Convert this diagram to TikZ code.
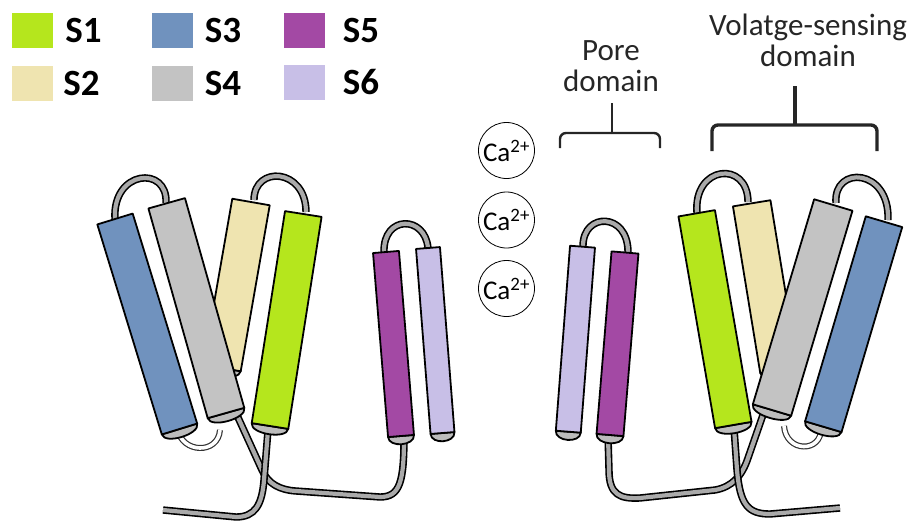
\documentclass[tikz,border=0pt]{standalone}
\usepackage{fontspec}
\setmainfont{Carlito}
\usetikzlibrary{calc, positioning}

\definecolor{sone}{RGB}{181,230,29}
\definecolor{stwo}{RGB}{239,228,176}
\definecolor{sthree}{RGB}{112,146,190}
\definecolor{sfour}{RGB}{195,195,195}
\definecolor{sfive}{RGB}{163,73,164}
\definecolor{ssix}{RGB}{200,191,231}
\definecolor{capgray}{RGB}{188,188,188}
\definecolor{tubegray}{RGB}{170,170,170}

% cylinder: name, top centre, bottom centre, width, colour
\newcommand{\helix}[5]{%
  \coordinate (#1t) at #2;
  \coordinate (#1b) at #3;
  \coordinate (#1p) at ($(#1t)!#4/2!90:(#1b)$);
  \coordinate (#1m) at ($(#1t)!#4/2!-90:(#1b)$);
  \coordinate (#1q) at ($(#1b)!#4/2!-90:(#1t)$);
  \coordinate (#1n) at ($(#1b)!#4/2!90:(#1t)$);
  \filldraw[helixline, fill=capgray] (#1q) .. controls ($(#1q)!-11pt!(#1p)$) and ($(#1n)!-11pt!(#1m)$) .. (#1n) -- cycle;
  \filldraw[helixline, fill=#5] (#1p) -- (#1m) -- (#1n) -- (#1q) -- cycle;
}

\begin{document}
\begin{tikzpicture}[x=1pt, y=-1pt, line join=round,
  helixline/.style={draw=black, line width=1.8pt},
  tube/.style={draw=black, line width=1.6pt, double=tubegray, double distance=4.2pt},
  faint/.style={draw=black!80, line width=1.2pt, double=white, double distance=3.6pt},
  key/.style={minimum width=41pt, minimum height=35pt, inner sep=0pt},
  legend/.style={inner sep=0pt, font=\fontsize{37}{40}\selectfont\bfseries},
  ion/.style={circle, draw, line width=0.8pt, fill=white, minimum size=56pt, inner sep=0pt, font=\fontsize{27}{28}\selectfont},
  domlabel/.style={align=center, inner sep=0pt, text=black!85, font=\fontsize{31}{31}\selectfont},
  brace/.style={draw=black!85, rounded corners=6pt}]
  \useasboundingbox (0,0) rectangle (923,522);

  % colour key
  \node[key, fill=sone] (kone) at (32.5,30.5) {};
  \node[legend, right=12pt of kone] (lone) {S1};
  \node[key, fill=stwo] (ktwo) at (32.5,83.5) {};
  \node[legend, right=10pt of ktwo] (ltwo) {S2};
  \node[key, fill=sthree] (kthree) at (172,30.5) {};
  \node[legend, right=12pt of kthree] (lthree) {S3};
  \node[key, fill=sfour] (kfour) at (172,83.5) {};
  \node[legend, right=12pt of kfour] (lfour) {S4};
  \node[key, fill=sfive] (kfive) at (304,30.5) {};
  \node[legend, right=18pt of kfive] (lfive) {S5};
  \node[key, fill=ssix] (ksix) at (304,82) {};
  \node[legend, right=18pt of ksix] (lsix) {S6};

  % calcium ions
  \node[ion] (caone) at (506.5,150.5) {Ca\textsuperscript{2+}};
  \node[ion] (catwo) at (506.5,220) {Ca\textsuperscript{2+}};
  \node[ion] (cathree) at (506.5,288.5) {Ca\textsuperscript{2+}};

  % domain labels
  \node[domlabel] (pore) at (611,66) {Pore\\domain};
  \draw[brace, line width=2.4pt] (560,148) -- (560,133) -- (660,133) -- (660,148);
  \draw[draw=black!85, line width=2.4pt] (612,134) -- (612,103);
  \node[domlabel] (vsd) at (808,40) {Volatge-sensing\\domain};
  \draw[brace, line width=3.4pt] (712,151) -- (712,125) -- (877,125) -- (877,151);
  \draw[draw=black!85, line width=3.4pt] (795,126) -- (795,86);

  % left subunit: loops
  \draw[tube] (115,219) .. controls (112,170) and (168,165) .. (166,203);
  \draw[tube] (254,200) .. controls (254,165) and (306,168) .. (306,212);
  \draw[tube] (384,252) .. controls (383,215) and (425,215) .. (428,248);
  \draw[faint] (178,430) .. controls (182,453) and (218,455) .. (220,430);
  \draw[tube] (236,413) -- (262,470) .. controls (268,484) and (280,490) .. (296,491)
    -- (380,497) .. controls (400,497) and (404,482) .. (404,436);
  \draw[tube] (268,430) -- (264,480) .. controls (262,505) and (255,517) .. (236,517) -- (163,510);

  \helix{ltwo}{(251,202)}{(222,368)}{38pt}{stwo}
  \helix{lone}{(303.3,214)}{(270,426)}{37pt}{sone}
  \helix{lthree}{(115,219)}{(179.5,429)}{37pt}{sthree}
  \helix{lfour}{(166.7,203.3)}{(226,413)}{38pt}{sfour}
  \helix{lfive}{(386,252)}{(401,436)}{26pt}{sfive}
  \helix{lsix}{(428,248)}{(442.5,433)}{24pt}{ssix}

  % right subunit: loops
  \draw[tube] (583,246) .. controls (583,212) and (628,212) .. (628,252);
  \draw[tube] (697,213) .. controls (693,165) and (748,160) .. (748,202);
  \draw[tube] (836,203) .. controls (833,165) and (890,168) .. (888,220);
  \draw[faint] (784,426) .. controls (786,453) and (822,453) .. (821,428);
  \draw[tube] (608,436) -- (609,470) .. controls (609,495) and (620,499) .. (640,498)
    -- (715,490) .. controls (732,487) and (742,476) .. (748,458) -- (764,412);
  \draw[tube] (734,428) -- (737,470) .. controls (740,505) and (748,514) .. (770,514) -- (840,508);

  \helix{rtwo}{(751.7,203.3)}{(779,370)}{38pt}{stwo}
  \helix{rone}{(696.7,213.3)}{(733.3,425)}{37pt}{sone}
  \helix{rthree}{(884,221.7)}{(823.3,426.7)}{38pt}{sthree}
  \helix{rfour}{(833.3,205)}{(772,410)}{40pt}{sfour}
  \helix{rsix}{(582.5,246.7)}{(568.3,431.7)}{25pt}{ssix}
  \helix{rfive}{(625,252.5)}{(610,435)}{27pt}{sfive}
\end{tikzpicture}
\end{document}
